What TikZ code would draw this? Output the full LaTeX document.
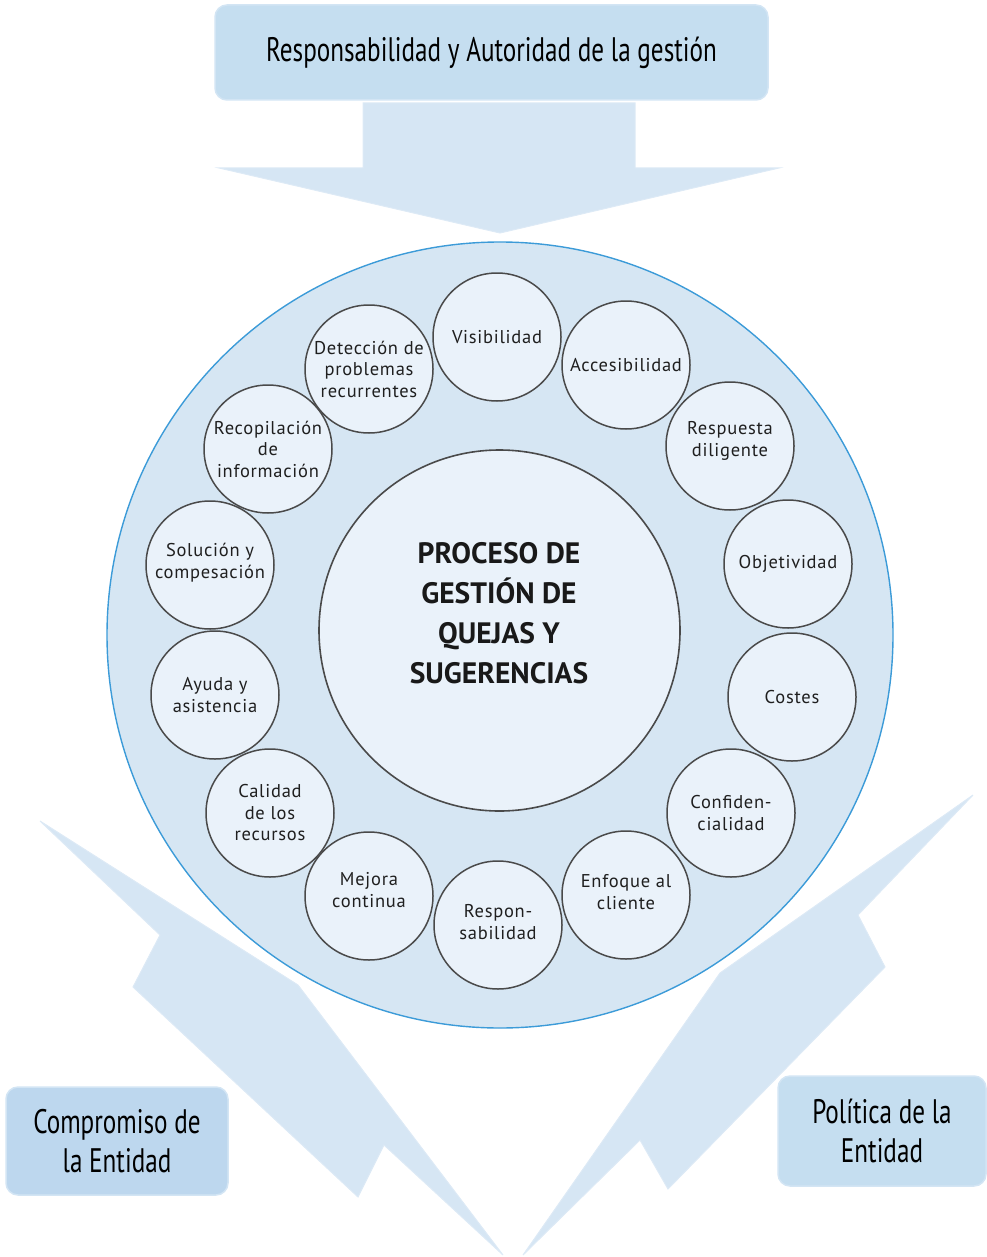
\documentclass[tikz,border=0pt]{standalone}
\usepackage{fontspec}
\setmainfont{PT Sans}
\newfontfamily\condfont[FakeStretch=0.74]{PT Sans}
\newfontfamily\labfont[LetterSpace=4]{PT Sans}
\definecolor{arrowfill}{HTML}{D6E6F4}
\definecolor{arrowedge}{HTML}{DDEAF6}
\definecolor{boxA}{HTML}{C5DEF0}
\definecolor{boxB}{HTML}{BDD7EE}
\definecolor{boxedge}{HTML}{D3E5F4}
\definecolor{ringfill}{HTML}{D6E6F3}
\definecolor{ringedge}{HTML}{3C9BD8}
\definecolor{bubfill}{HTML}{EAF2FA}
\definecolor{bubedge}{HTML}{4A4A4A}
\tikzset{
  bubble/.style={circle, draw=bubedge, line width=1.5pt, fill=bubfill,
    minimum size=128pt, inner sep=0pt, align=center, text=black!88,
    font={\labfont\fontsize{18.5}{21.5}\selectfont}},
  labelbox/.style={rounded corners=12pt, draw=boxedge, line width=1.5pt,
    align=center, inner sep=0pt, text=black,
    font={\condfont\fontsize{34}{38.5}\selectfont}},
  bigarrow/.style={fill=arrowfill, draw=arrowedge, line width=1pt, line join=miter}
}
\begin{document}
\begin{tikzpicture}[x=1pt,y=-1pt]
\useasboundingbox (0,0) rectangle (986,1257);
% arrows
\draw[bigarrow] (363,103) -- (635,103) -- (635,168) -- (779,168) -- (500,233) -- (219,168) -- (363,168) -- cycle;
\draw[bigarrow] (40,821) -- (298,985) -- (503,1255) -- (384,1145) -- (358,1197) -- (133,987) -- (160,935) -- cycle;
\draw[bigarrow] (973,795) -- (720,973) -- (523,1255) -- (640,1140) -- (668,1189) -- (885,967) -- (858,915) -- cycle;
% boxes
\node[labelbox, fill=boxA, minimum width=553pt, minimum height=95pt] (top) at (491.5,52.5) {Responsabilidad y Autoridad de la gestión};
\node[labelbox, fill=boxB, minimum width=222pt, minimum height=108pt] (comp) at (117,1141) {Compromiso de\\la Entidad};
\node[labelbox, fill=boxA, minimum width=208pt, minimum height=110pt] (pol) at (882,1131) {Política de la\\Entidad};
% ring
\node[circle, fill=ringfill, draw=ringedge, line width=1.4pt, minimum size=786pt, inner sep=0pt] (ring) at (500,635) {};
\node[circle, fill=bubfill, draw=bubedge, line width=1.6pt, minimum size=361pt, inner sep=0pt] (core) at (499.5,630.5) {};
\node[align=center, font={\bfseries\fontsize{29.5}{40}\selectfont}, text=black!90] (coretext) at (499,613) {PROCESO DE\\GESTIÓN DE\\QUEJAS Y\\SUGERENCIAS};
% bubbles
\node[bubble] (vis) at (497,337) {Visibilidad};
\node[bubble] (acc) at (626,365) {Accesibilidad};
\node[bubble, text depth=14pt] (resp) at (730,446) {Respuesta\\diligente};
\node[bubble] (obj) at (788,564) {Objetividad};
\node[bubble] (cost) at (792,697) {Costes};
\node[bubble] (conf) at (731,813) {Confiden-\\cialidad};
\node[bubble, text depth=6pt] (enf) at (626,895) {Enfoque al\\cliente};
\node[bubble, text depth=6pt] (rsb) at (498,925) {Respon-\\sabilidad};
\node[bubble, text depth=12pt] (mej) at (369,896) {Mejora\\continua};
\node[bubble] (cal) at (270,813) {Calidad\\de los\\recursos};
\node[bubble] (ayu) at (215,695) {Ayuda y\\asistencia};
\node[bubble, text depth=8pt] (sol) at (210,565) {Solución y\\compesación};
\node[bubble] (rec) at (268,449) {Recopilación\\de\\información};
\node[bubble] (det) at (369,369) {Detección de\\problemas\\recurrentes};
\end{tikzpicture}
\end{document}
